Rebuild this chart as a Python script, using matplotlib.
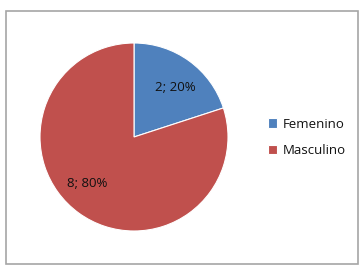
import matplotlib
matplotlib.use("Agg")
import matplotlib.pyplot as plt
from matplotlib.patches import Rectangle

labels = ["Femenino", "Masculino"]
counts = [2, 8]
colors = ["#4F81BD", "#C0504D"]

plt.rcParams.update({"font.family": ["Open Sans", "DejaVu Sans"], "font.size": 9.5})

W, H = 362, 273
fig = plt.figure(figsize=(W / 100, H / 100), dpi=100)
fig.patch.set_facecolor("white")

# chart frame
fig.patches.append(Rectangle((5.5 / W, 1 - 263.5 / H), 352 / W, 253 / H,
                             transform=fig.transFigure, fill=False,
                             edgecolor="#A6A6A6", linewidth=1.2))

cx, cy, r = 134, 137, 94
ax = fig.add_axes([(cx - r) / W, 1 - (cy + r) / H, 2 * r / W, 2 * r / H])
total = sum(counts)
wedges, texts, autotexts = ax.pie(
    counts, colors=colors, startangle=90, counterclock=False,
    autopct=lambda p: f"{round(p * total / 100)}; {p:.0f}%", pctdistance=0.7,
    wedgeprops=dict(edgecolor="white", linewidth=0.8),
    textprops=dict(fontsize=9.5, color="#111111"))
autotexts[0].set_position((0.44, 0.53))
autotexts[1].set_position((-0.5, -0.49))
ax.set_xlim(-1, 1)
ax.set_ylim(-1, 1)
ax.set_aspect("auto")
ax.axis("off")

fig.legend(wedges, labels, loc="center left", bbox_to_anchor=(256 / W, 1 - 137.5 / H),
           frameon=False, handlelength=0.7, handleheight=0.7, handletextpad=0.45,
           labelspacing=1.05, fontsize=9.5, labelcolor="#111111")

fig.savefig("out.png", dpi=100)
